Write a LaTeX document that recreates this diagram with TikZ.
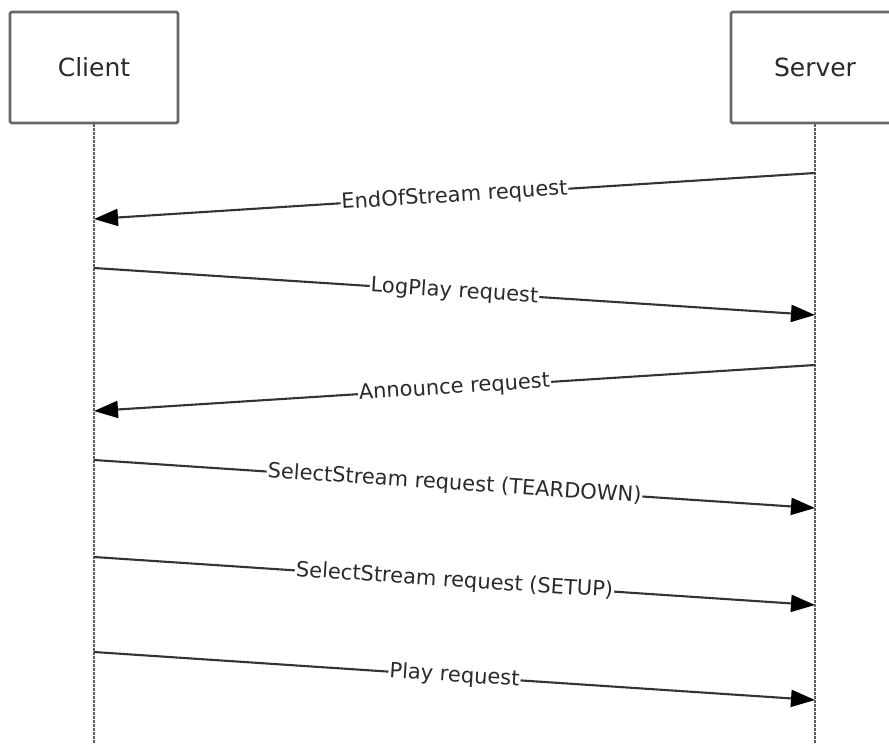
\documentclass[tikz,border=0pt]{standalone}
\usepackage{fontspec}
\setmainfont{DejaVu Sans}
\usetikzlibrary{arrows.meta,positioning}
\definecolor{boxgray}{HTML}{666666}
\definecolor{txtgray}{HTML}{2A2A2A}
\definecolor{msggray}{HTML}{333333}
\definecolor{lifegray}{HTML}{5E5E5E}

\begin{document}
\begin{tikzpicture}[
    x=1pt, y=-1pt,
    every node/.style={font=\fontsize{21}{25}\selectfont, text=txtgray},
    actor/.style={draw=boxgray, line width=2.6pt, rounded corners=1.5pt, minimum width=168pt, minimum height=111pt, inner sep=0pt, font=\fontsize{25}{30}\selectfont},
    lifeline/.style={draw=lifegray, line width=2.6pt, dash pattern=on 2.2pt off 1.8pt},
    msg/.style={draw=msggray, line width=2.1pt, -{Triangle[length=24pt, width=17pt, color=black]}},
    lbl/.style={sloped, midway, fill=white, inner sep=1pt}
]
\clip (0,0) rectangle (889,744);
\node[actor] (client) at (94,67.5) {Client};
\node[actor] (server) at (815,67.5) {Server};
\coordinate (clientend) at (94,744);
\coordinate (serverend) at (815,744);
\draw[lifeline] (client.south) -- (clientend);
\draw[lifeline] (server.south) -- (serverend);
% points on the lifelines
\coordinate (s1) at (815,173);
\coordinate (c1) at (94,219);
\coordinate (c2) at (94,268);
\coordinate (s2) at (815,315);
\coordinate (s3) at (815,365);
\coordinate (c3) at (94,411);
\coordinate (c4) at (94,460);
\coordinate (s4) at (815,508);
\coordinate (c5) at (94,557);
\coordinate (s5) at (815,605);
\coordinate (c6) at (94,652);
\coordinate (s6) at (815,700);
% messages
\draw[msg] (s1) -- node[lbl] {EndOfStream request} (c1);
\draw[msg] (c2) -- node[lbl] {LogPlay request} (s2);
\draw[msg] (s3) -- node[lbl] {Announce request} (c3);
\draw[msg] (c4) -- node[lbl] {SelectStream request (TEARDOWN)} (s4);
\draw[msg] (c5) -- node[lbl] {SelectStream request (SETUP)} (s5);
\draw[msg] (c6) -- node[lbl] {Play request} (s6);
\end{tikzpicture}
\end{document}
